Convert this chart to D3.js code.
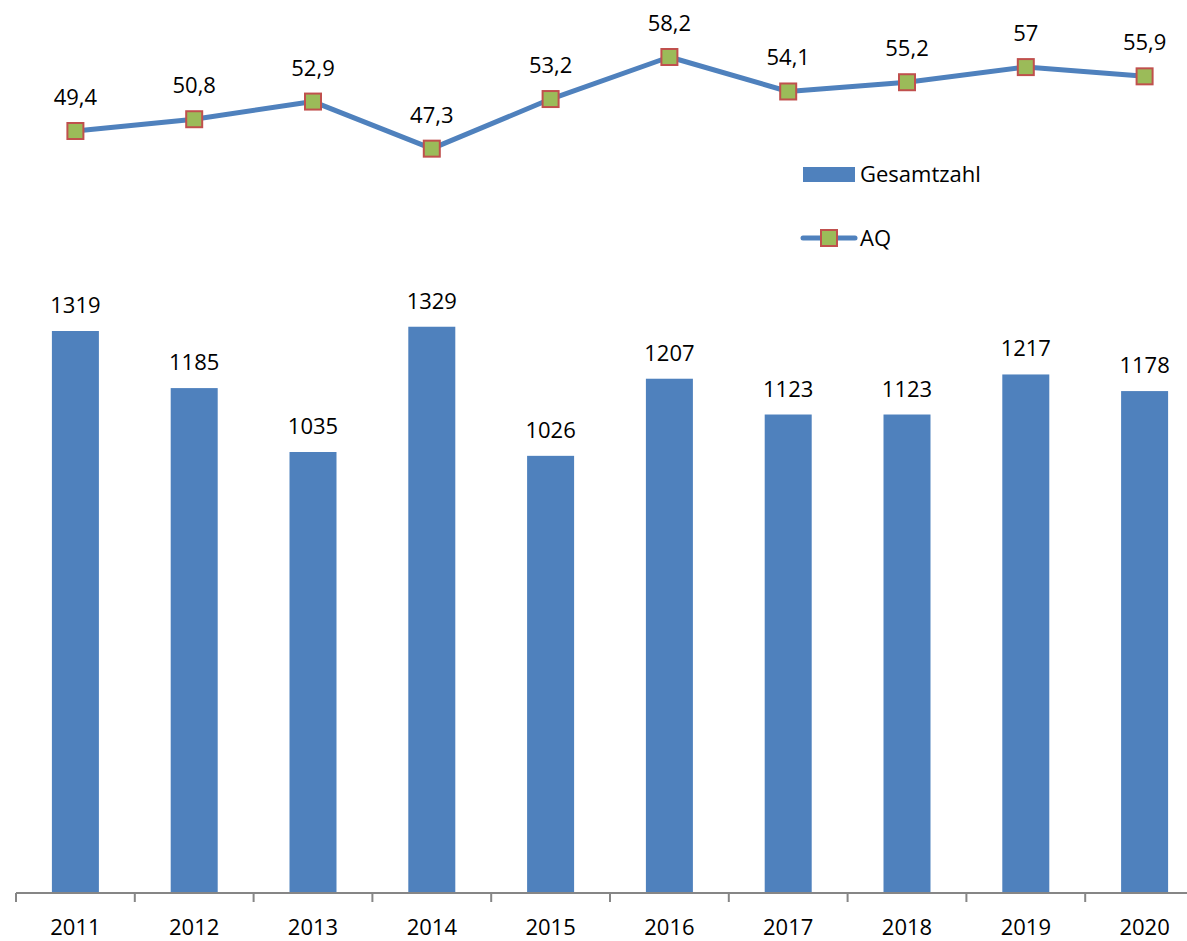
<!DOCTYPE html>
<html>
<head>
<meta charset="utf-8">
<script src="https://cdn.jsdelivr.net/npm/d3@7"></script>
<style>
  body { margin: 0; background: #fff; }
  text { font-family: "Open Sans", "Liberation Sans", sans-serif; fill: #000; }
</style>
</head>
<body>
<div id="chart"></div>
<script>
// data
var years = ['2011','2012','2013','2014','2015','2016','2017','2018','2019','2020'];
var gesamtzahl = [1319, 1185, 1035, 1329, 1026, 1207, 1123, 1123, 1217, 1178];
var aq = [49.4, 50.8, 52.9, 47.3, 53.2, 58.2, 54.1, 55.2, 57, 55.9];

var w = 1187, h = 941;
var fs = '22px';
var svg = d3.select('#chart').append('svg')
            .attr('width', w)
            .attr('height', h);

// x: category bands, axis starts at x=16
var x = d3.scaleBand()
          .domain(years)
          .range([16, 16 + 118.8 * years.length])
          .paddingInner(0)
          .paddingOuter(0);

var baseY = 893;
// bars scale (value 0 at the axis)
var yBar = d3.scaleLinear().domain([0, 1319]).range([baseY, 331]);
// line scale, its own axis (hidden)
var yLine = d3.scaleLinear().domain([49.4, 58.2]).range([131, 57]);

var barW = 47;

// bars
svg.selectAll('rect.bar')
   .data(years)
   .enter().append('rect')
   .attr('class', 'bar')
   .attr('x', function(d) { return x(d) + x.bandwidth() / 2 - barW / 2; })
   .attr('y', function(d, i) { return yBar(gesamtzahl[i]); })
   .attr('width', barW)
   .attr('height', function(d, i) { return baseY - yBar(gesamtzahl[i]); })
   .attr('fill', '#4F81BD');

// bar labels
svg.selectAll('text.barlab')
   .data(years)
   .enter().append('text')
   .attr('class', 'barlab')
   .attr('x', function(d) { return x(d) + x.bandwidth() / 2; })
   .attr('y', function(d, i) { return yBar(gesamtzahl[i]) - 18; })
   .attr('text-anchor', 'middle')
   .attr('font-size', fs)
   .text(function(d, i) { return gesamtzahl[i]; });

// x axis
var xAxis = d3.axisBottom(x).tickSize(0).tickPadding(26);
var gx = svg.append('g')
            .attr('transform', 'translate(0,' + baseY + ')')
            .call(xAxis);
gx.select('.domain').remove();
gx.append('line')
  .attr('x1', 16).attr('x2', w)
  .attr('y1', 0).attr('y2', 0)
  .attr('stroke', '#868686').attr('stroke-width', 2);
gx.selectAll('line.sep')
  .data(years)
  .enter().append('line')
  .attr('class', 'sep')
  .attr('x1', function(d) { return x(d); })
  .attr('x2', function(d) { return x(d); })
  .attr('y1', 0).attr('y2', 9)
  .attr('stroke', '#868686').attr('stroke-width', 2);
gx.selectAll('.tick text')
  .attr('font-size', fs)
  .attr('font-family', '"Open Sans", "Liberation Sans", sans-serif')
  .attr('fill', '#000');

// AQ line
var line = d3.line()
             .x(function(d, i) { return x(years[i]) + x.bandwidth() / 2; })
             .y(function(d) { return yLine(d); });

svg.append('path')
   .datum(aq)
   .attr('d', line)
   .attr('fill', 'none')
   .attr('stroke', '#4F81BD')
   .attr('stroke-width', 5)
   .attr('stroke-linejoin', 'round');

var mk = 16;
svg.selectAll('rect.mk')
   .data(aq)
   .enter().append('rect')
   .attr('class', 'mk')
   .attr('x', function(d, i) { return x(years[i]) + x.bandwidth() / 2 - mk / 2; })
   .attr('y', function(d) { return yLine(d) - mk / 2; })
   .attr('width', mk).attr('height', mk)
   .attr('fill', '#9BBB59')
   .attr('stroke', '#C0504D')
   .attr('stroke-width', 2);

svg.selectAll('text.aqlab')
   .data(aq)
   .enter().append('text')
   .attr('class', 'aqlab')
   .attr('x', function(d, i) { return x(years[i]) + x.bandwidth() / 2; })
   .attr('y', function(d) { return yLine(d) - 26; })
   .attr('text-anchor', 'middle')
   .attr('font-size', fs)
   .text(function(d) { return String(d).replace('.', ','); });

// legend
var lg = svg.append('g');
lg.append('rect')
  .attr('x', 803).attr('y', 167)
  .attr('width', 52).attr('height', 15)
  .attr('fill', '#4F81BD');
lg.append('text')
  .attr('x', 860).attr('y', 182)
  .attr('font-size', fs)
  .text('Gesamtzahl');
lg.append('line')
  .attr('x1', 803).attr('x2', 855)
  .attr('y1', 238).attr('y2', 238)
  .attr('stroke', '#4F81BD').attr('stroke-width', 5)
  .attr('stroke-linecap', 'round');
lg.append('rect')
  .attr('x', 829 - 8).attr('y', 238 - 8)
  .attr('width', 16).attr('height', 16)
  .attr('fill', '#9BBB59')
  .attr('stroke', '#C0504D').attr('stroke-width', 2);
lg.append('text')
  .attr('x', 860).attr('y', 246)
  .attr('font-size', fs)
  .text('AQ');
</script>
</body>
</html>
